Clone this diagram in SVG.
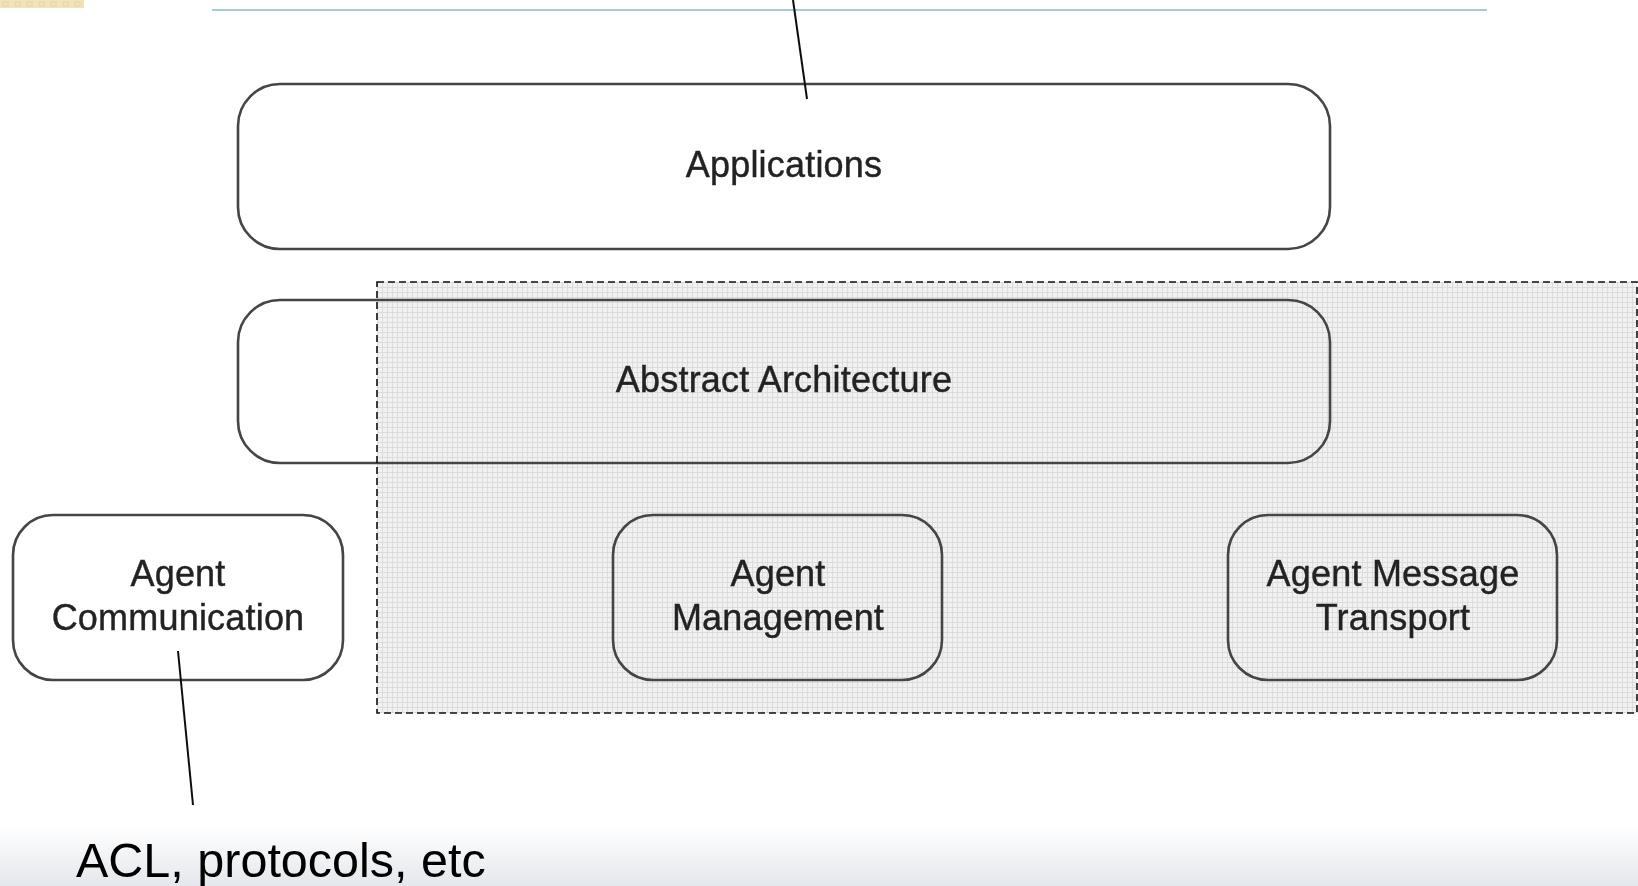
<svg xmlns="http://www.w3.org/2000/svg" width="1638" height="886" viewBox="0 0 1638 886">
  <defs>
    <linearGradient id="floor" x1="0" y1="0" x2="0" y2="1">
      <stop offset="0" stop-color="#ffffff"/>
      <stop offset="1" stop-color="#e4e7ec"/>
    </linearGradient>
    <pattern id="mesh" width="5" height="5" patternUnits="userSpaceOnUse" x="377" y="282">
      <rect width="5" height="5" fill="#f1f1f1"/>
      <path d="M0 0.5H5M0.5 0V5" stroke="#dcdcdc" stroke-width="1"/>
    </pattern>
    <pattern id="tan" width="12" height="8" patternUnits="userSpaceOnUse">
      <rect width="12" height="8" fill="#f3e3b6"/>
      <rect x="3" y="2" width="5" height="4" fill="none" stroke="#e5d3a2" stroke-width="1"/>
    </pattern>
    <filter id="soft" x="-5%" y="-5%" width="110%" height="110%">
      <feGaussianBlur stdDeviation="0.7"/>
    </filter>
  </defs>
  <style>
    .box { fill: none; stroke: #444; stroke-width: 2.6; }
    .label { font-family: "Liberation Sans", Arial, sans-serif; font-size: 36px; letter-spacing: 0.2px; fill: #222; stroke: #222; stroke-width: 0.4; text-anchor: middle; }
    .link { stroke: #111; stroke-width: 2; fill: none; }
  </style>

  <!-- page background -->
  <rect width="1638" height="886" fill="#ffffff"/>
  <rect x="0" y="826" width="1638" height="60" fill="url(#floor)"/>
  <rect x="0" y="0" width="84" height="8" fill="url(#tan)"/>
  <line x1="212" y1="10" x2="1487" y2="10" stroke="#a6c8e2" stroke-width="2"/>

  <!-- platform region (dashed, meshed) -->
  <g id="platform">
    <rect x="377" y="282" width="1260" height="431" fill="url(#mesh)"/>
  </g>

  <g filter="url(#soft)">
    <g id="applications">
      <rect class="box" x="238" y="84" width="1092" height="165" rx="42"/>
      <text class="label" x="784" y="177">Applications</text>
    </g>

    <g id="abstract-architecture">
      <rect class="box" x="238" y="300" width="1092" height="163" rx="42"/>
      <text class="label" x="784" y="392">Abstract Architecture</text>
    </g>

    <g id="agent-communication">
      <rect class="box" x="13" y="515" width="330" height="165" rx="40"/>
      <text class="label" x="178" y="586">Agent</text>
      <text class="label" x="178" y="630">Communication</text>
    </g>

    <g id="agent-management">
      <rect class="box" x="613" y="515" width="329" height="165" rx="40"/>
      <text class="label" x="778" y="586">Agent</text>
      <text class="label" x="778" y="630">Management</text>
    </g>

    <g id="agent-message-transport">
      <rect class="box" x="1228" y="515" width="329" height="165" rx="40"/>
      <text class="label" x="1393" y="586">Agent Message</text>
      <text class="label" x="1393" y="630">Transport</text>
    </g>

    <g id="connectors">
      <line class="link" x1="793" y1="0" x2="807" y2="99"/>
      <line class="link" x1="178" y1="651" x2="193" y2="805"/>
    </g>
  </g>

  <!-- dashed outline of the platform region -->
  <rect x="377" y="282" width="1260" height="431" fill="none" stroke="#111" stroke-width="1.6" stroke-dasharray="7 4"/>

  <text x="76" y="877" font-family="Liberation Sans, Arial, sans-serif" font-size="48.5" fill="#000">ACL, protocols, etc</text>
</svg>
